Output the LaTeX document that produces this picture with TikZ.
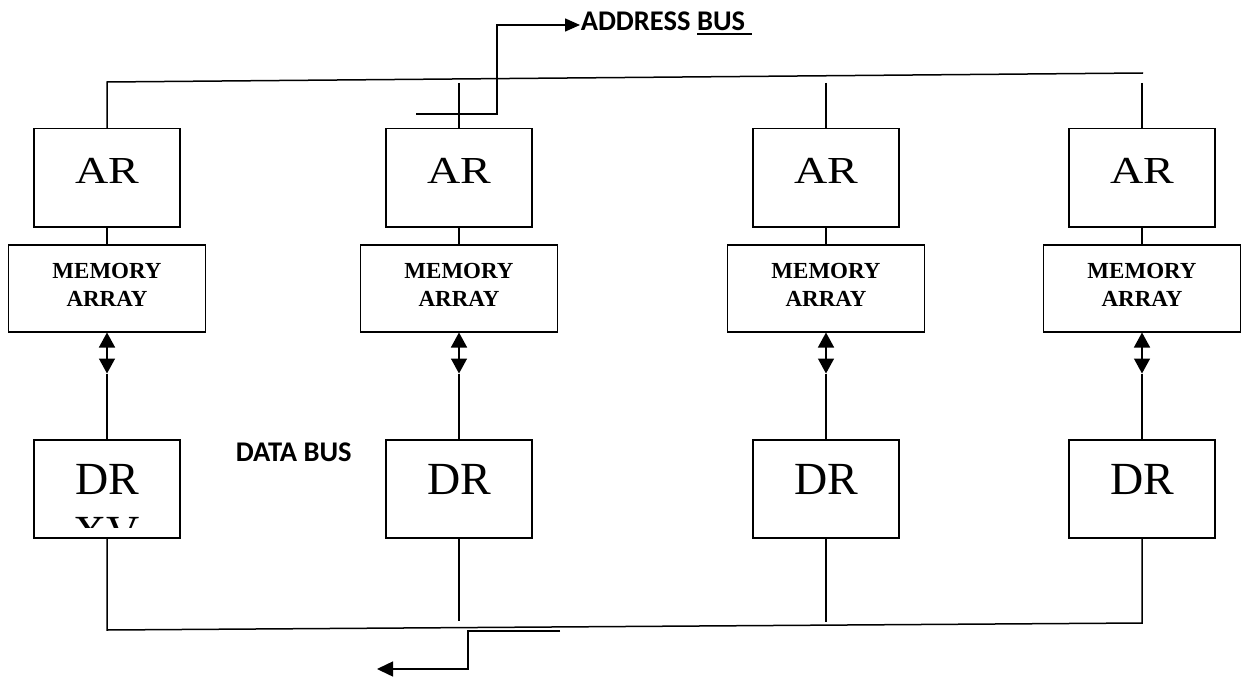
\documentclass[tikz,border=0pt]{standalone}
\usepackage{fontspec}
\setmainfont{Liberation Serif}
\newfontfamily\calfont{Carlito}
\usetikzlibrary{arrows.meta,calc}
\newcommand\ulbus[1]{\setbox0\hbox{#1}\rlap{\rule[-4pt]{\wd0}{2pt}}\box0}
\begin{document}
\begin{tikzpicture}[x=1pt,y=-1pt, line width=1.5pt,
  box/.style={draw, minimum width=146pt, minimum height=98pt, inner sep=0pt, anchor=north},
  membox/.style={draw, minimum width=197pt, minimum height=87pt, inner sep=0pt, anchor=north},
  big/.style={font=\fontsize{46}{53}\selectfont, inner sep=0pt, anchor=base},
  memtxt/.style={font=\fontsize{23}{28}\selectfont\bfseries, inner sep=0pt, anchor=base},
  bus/.style={font=\calfont\fontsize{28.5}{34}\selectfont\bfseries, inner sep=0pt, anchor=base west},
  tip/.style={-{Triangle[length=15pt,width=13pt]}},
  dbl/.style={{Triangle[length=15pt,width=16pt]}-{Triangle[length=15pt,width=16pt]}}
]
\useasboundingbox (0,0) rectangle (1241,679);
\foreach \i/\x in {1/107, 2/459, 3/826, 4/1142}{
  \node[box] (ar\i) at (\x,128) {};
  \node[big] (art\i) at (\x,183) {\scalebox{1}[0.83]{AR}};
  \node[membox] (m\i) at (\x,244) {};
  \node[memtxt] (ma\i) at (\x,278) {MEMORY};
  \node[memtxt] (mb\i) at (\x,306) {ARRAY};
  \node[box] (dr\i) at (\x,439) {};
  \node[big] (drt\i) at (\x,494) {DR};
  \coordinate (c\i) at ($(m\i.south)+(0,41)$);
  \draw (ar\i.south) -- (m\i.north);
  \draw[dbl] (m\i.south) -- (c\i);
  \draw (c\i) -- (dr\i.north);
}
% clipped second line in first DR
\begin{scope}
  \clip (36,505) rectangle (182,527);
  \node[big] (xv) at (107,547) {XV};
\end{scope}
% address bus
\coordinate (t1) at (107,82);
\coordinate (t4) at (1143,73);
\draw (ar1.north) -- (t1) -- (t4);
\coordinate (u2) at (459,83);
\coordinate (u3) at (826,83);
\coordinate (u4) at (1142,83);
\draw (u2) -- (ar2.north);
\draw (u3) -- (ar3.north);
\draw (u4) -- (ar4.north);
\node[bus] (addr) at (580,31) {ADDRESS \ulbus{BUS\ }};
\coordinate (a0) at (416,114);
\coordinate (a1) at (497,114);
\coordinate (a2) at (497,25);
\draw[tip] (a0) -- (a1) -- (a2) -- (a2 -| addr.west);
% data bus
\node[bus] (data) at (235,461) {DATA BUS};
\coordinate (b1) at (107,630);
\coordinate (b4) at (1142,623);
\draw (dr1.south) -- (b1) -- (b4) -- (dr4.south);
\coordinate (v2) at (459,621);
\coordinate (v3) at (826,622);
\draw (dr2.south) -- (v2);
\draw (dr3.south) -- (v3);
\coordinate (o0) at (560,631);
\coordinate (o1) at (468,631);
\coordinate (o2) at (468,669);
\coordinate (o3) at (377,669);
\draw[-{Triangle[length=16pt,width=15pt]}] (o0) -- (o1) -- (o2) -- (o3);
\end{tikzpicture}
\end{document}
